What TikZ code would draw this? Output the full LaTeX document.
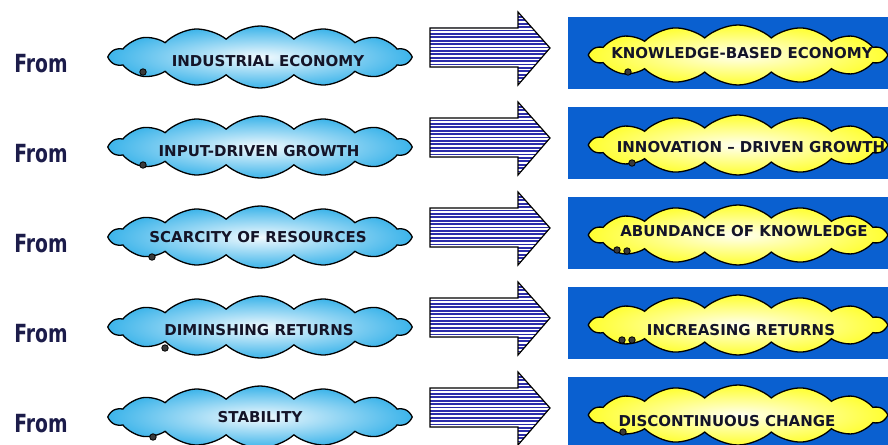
\documentclass[tikz,border=0pt]{standalone}
\usepackage{fontspec}
\setmainfont{DejaVu Sans}
\newfontfamily\fromfont[FakeStretch=0.75]{DejaVu Sans}
\usetikzlibrary{shapes.symbols}
\definecolor{fromcol}{HTML}{1C1C4A}
\definecolor{textcol}{HTML}{141428}
\definecolor{skyin}{HTML}{F2FAFE}
\definecolor{skyout}{HTML}{3CB4EA}
\definecolor{sunin}{HTML}{FFFFF0}
\definecolor{sunout}{HTML}{FFFF30}
\definecolor{boxblue}{HTML}{0A60D0}
\definecolor{stripeblue}{HTML}{2C2CAA}
\definecolor{dotcol}{HTML}{3A3A3A}

\begin{document}
\begin{tikzpicture}[x=1pt,y=-1pt,
fromtext/.style={font=\fromfont\bfseries\fontsize{25}{25}\selectfont,text=fromcol,anchor=base,inner sep=0},
cloudbase/.style={cloud,cloud puffs=14,cloud puff arc=85,cloud ignores aspect,draw=black,line width=1.3pt,inner sep=0},
bluecloud/.style={cloudbase,minimum width=300pt,minimum height=62pt,inner color=skyin,outer color=skyout},
yellowcloud/.style={cloudbase,minimum width=295pt,minimum height=60pt,inner color=sunin,outer color=sunout},
cloudtext/.style={font=\bfseries\fontsize{15}{15}\selectfont,text=textcol,inner sep=0},
bluebox/.style={rectangle,fill=boxblue,minimum width=320pt,minimum height=72pt,inner sep=0},
stripe/.style={stripeblue,line width=1.8pt},
bubble/.style={circle,draw=black,fill=dotcol,line width=0.8pt,minimum size=6.5pt,inner sep=0}]
\clip (0,0) rectangle (888,444);
\foreach \lefttext/\lx/\ly/\righttext/\rx/\ry [count=\i from 0] in {
INDUSTRIAL ECONOMY/268/61/KNOWLEDGE-BASED  ECONOMY/742/53,
INPUT-DRIVEN GROWTH/259/61/INNOVATION -- DRIVEN GROWTH/751/57,
SCARCITY  OF RESOURCES/258/57/ABUNDANCE  OF KNOWLEDGE/744/51,
DIMINSHING RETURNS/259/60/INCREASING RETURNS/741/60,
STABILITY/260/57/DISCONTINUOUS CHANGE/727/61}{
\begin{scope}[shift={(0,90*\i)}]
\node[fromtext] (from\i) at (41,72) {From};
\node[bluecloud] (l\i) at (260,57) {};
\node[cloudtext] (lt\i) at (\lx,\ly) {\lefttext};
\begin{scope}
\clip (430,28) -- (518,28) -- (518,12) -- (550,48) -- (518,85) -- (518,67) -- (430,67) -- cycle;
\fill[white] (425,10) rectangle (555,90);
\foreach \s in {0,...,22}
  \draw[stripe] (425,13.5+3.4*\s) -- (555,13.5+3.4*\s);
\end{scope}
\draw[line width=1.2pt,line join=miter] (430,28) -- (518,28) -- (518,12) -- (550,48) -- (518,85) -- (518,67) -- (430,67) -- cycle;
\node[bluebox] (box\i) at (728,53) {};
\node[yellowcloud] (r\i) at (738,55) {};
\node[cloudtext] (rt\i) at (\rx,\ry) {\righttext};
\end{scope}
}
\foreach \x/\y [count=\n] in {143/72,143/165,152/257,165/348,153/437,628/72,632/163,617/250,627/251,622/340,632/340,623/432}
  \node[bubble] (dot\n) at (\x,\y) {};
\end{tikzpicture}
\end{document}
